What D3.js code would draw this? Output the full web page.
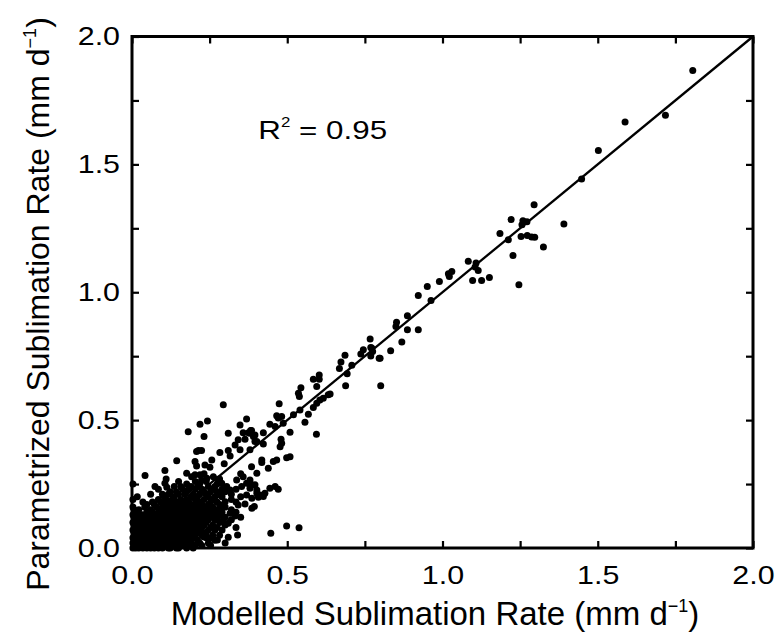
<!DOCTYPE html>
<html><head><meta charset="utf-8">
<script src="https://cdn.jsdelivr.net/npm/d3@7"></script>
<style>
body{margin:0;background:#fff}
text{font-family:"Liberation Sans",Arial,Helvetica,sans-serif;fill:#000}
</style>
</head><body>
<svg id="chart" width="777" height="637"></svg>
<script>
// ---- data ----
const tickValues = [0,0.25,0.5,0.75,1,1.25,1.5,1.75,2];
const tickLabels = {"0":"0.0","0.5":"0.5","1":"1.0","1.5":"1.5","2":"2.0"};
const xTitle = "Modelled Sublimation Rate (mm d";
const yTitle = "Parametrized Sublimation Rate (mm d";
const r2Label = "= 0.95";

const highPts = [[1.806,1.867],[1.718,1.692],[1.588,1.666],[1.502,1.554],[1.448,1.443],[1.391,1.267],[1.325,1.177],[1.295,1.342],[1.221,1.284],[1.259,1.280],[1.272,1.276],[1.256,1.264],[1.185,1.230],[1.212,1.205],[1.253,1.218],[1.273,1.222],[1.287,1.216],[1.297,1.215],[1.227,1.144],[1.246,1.029],
[1.083,1.121],[1.108,1.114],[1.105,1.099],[1.115,1.085],[1.097,1.046],[1.126,1.046],[1.151,1.058],[1.019,1.072],[1.030,1.081],[1.022,1.062],[0.990,1.042],[0.951,1.022],[0.922,0.987],[0.963,0.968],[0.887,0.908],[0.852,0.883],[0.850,0.866],[0.887,0.853],[0.922,0.853],[0.869,0.805],[0.833,0.771],[0.799,0.742],[0.767,0.817],[0.772,0.782],[0.775,0.768]];

const midPts = [[0.745,0.775],[0.737,0.759],[0.769,0.784],[0.769,0.751],[0.796,0.742],[0.686,0.754],[0.673,0.727],[0.668,0.702],[0.708,0.715],[0.693,0.681],[0.603,0.676],[0.603,0.660],[0.584,0.660],[0.595,0.631],[0.544,0.627],[0.688,0.634],[0.801,0.634],[0.638,0.602],
[0.536,0.605],[0.539,0.592],[0.632,0.599],[0.605,0.579],[0.616,0.586],[0.595,0.566],[0.474,0.564],[0.584,0.549],[0.568,0.523],[0.557,0.492],[0.520,0.521],[0.541,0.540],[0.509,0.453],[0.594,0.445],[0.482,0.514],[0.471,0.508],[0.466,0.517],[0.444,0.484],[0.461,0.475],[0.487,0.488],[0.423,0.451],[0.396,0.442],[0.385,0.459],[0.380,0.449],[0.396,0.416],[0.423,0.407],[0.380,0.384],[0.480,0.425],[0.482,0.410],[0.477,0.396],[0.509,0.357],[0.498,0.353],[0.466,0.344],[0.455,0.338],[0.439,0.312],[0.418,0.344],[0.418,0.334],[0.385,0.318],[0.402,0.292],[0.380,0.266],[0.385,0.247],[0.461,0.240],[0.471,0.230],[0.444,0.234],[0.428,0.214],[0.412,0.207],[0.423,0.201],[0.402,0.227],[0.407,0.198],[0.394,0.162],[0.498,0.086],[0.538,0.079],[0.447,0.058],[0.340,0.051],[0.310,0.042],[0.275,0.031]];

const lowPts = [[0.294,0.560],[0.243,0.497],[0.219,0.484],[0.181,0.455],[0.232,0.436],[0.348,0.481],[0.369,0.504],[0.310,0.449],[0.358,0.451],[0.382,0.459],[0.214,0.381],[0.224,0.381],[0.208,0.377],[0.144,0.341],[0.106,0.303],[0.042,0.283],[0.074,0.240],[0.106,0.253],[0.112,0.238],[0.203,0.338],[0.208,0.321],[0.257,0.344],[0.235,0.325],[0.251,0.316],[0.283,0.373],[0.310,0.381],[0.316,0.360],[0.297,0.329],[0.348,0.384],[0.332,0.403],[0.342,0.423],[0.364,0.425],[0.375,0.451],[0.391,0.436],[0.402,0.416],
[0.192,0.279],[0.224,0.266],[0.176,0.292],[0.203,0.286],[0.241,0.273],[0.219,0.286],[0.262,0.279],[0.278,0.269],[0.289,0.253],[0.305,0.240],[0.316,0.227],[0.337,0.266],[0.358,0.279],[0.369,0.253],[0.353,0.240],[0.380,0.234],[0.396,0.247],[0.402,0.214],[0.386,0.195],[0.369,0.207],[0.283,0.207],[0.300,0.181],[0.289,0.162],[0.342,0.168],[0.364,0.172],[0.386,0.155],[0.316,0.136],[0.283,0.136],[0.332,0.125],[0.294,0.110],[0.310,0.097],[0.224,0.064],[0.230,0.044],[0.208,0.058],[0.176,0.025],[0.155,0.044],[0.192,0.018]];

// dense cluster near the origin: modelled value -> parametrized values
const clusterCols = [
 [0.003,[0.00,0.02,0.04,0.07,0.10,0.13,0.16,0.19,0.25]],
 [0.007,[0.01,0.03,0.06,0.09,0.12,0.15]],
 [0.012,[0.00,0.01,0.03,0.05,0.08,0.11]],
 [0.017,[0.01,0.03,0.05,0.07,0.10,0.14,0.20]],
 [0.022,[0.00,0.02,0.04,0.06,0.09,0.12,0.15]],
 [0.029,[0.01,0.02,0.04,0.06,0.08,0.11]],
 [0.035,[0.00,0.01,0.03,0.05,0.07,0.10,0.13,0.18]],
 [0.041,[0.01,0.03,0.05,0.07,0.09,0.12,0.16]],
 [0.048,[0.00,0.02,0.04,0.06,0.08,0.11,0.14,0.17]],
 [0.054,[0.01,0.03,0.05,0.07,0.10,0.13]],
 [0.060,[0.00,0.01,0.03,0.05,0.07,0.09,0.12,0.15,0.21]],
 [0.066,[0.01,0.02,0.04,0.06,0.08,0.10,0.14,0.18]],
 [0.072,[0.00,0.02,0.04,0.06,0.08,0.11,0.13,0.17]],
 [0.079,[0.01,0.03,0.05,0.07,0.10,0.12,0.16]],
 [0.085,[0.00,0.01,0.03,0.05,0.07,0.09,0.12,0.14,0.19,0.23]],
 [0.092,[0.01,0.03,0.05,0.07,0.09,0.11,0.15,0.18]],
 [0.098,[0.00,0.02,0.04,0.06,0.08,0.10,0.13,0.16,0.21]],
 [0.104,[0.01,0.03,0.05,0.07,0.09,0.12,0.15,0.20]],
 [0.110,[0.01,0.03,0.05,0.07,0.09,0.11,0.14,0.17,0.19,0.27]],
 [0.117,[0.00,0.02,0.04,0.06,0.08,0.10,0.13,0.16,0.21]],
 [0.123,[0.00,0.02,0.04,0.06,0.09,0.12,0.15,0.18,0.22]],
 [0.130,[0.01,0.03,0.05,0.07,0.11,0.14,0.17,0.19]],
 [0.136,[0.01,0.03,0.05,0.08,0.10,0.13,0.16,0.20,0.24]],
 [0.143,[0.00,0.04,0.07,0.09,0.11,0.15,0.18,0.22]],
 [0.150,[0.00,0.02,0.06,0.09,0.12,0.14,0.17,0.21,0.26]],
 [0.157,[0.01,0.03,0.05,0.08,0.11,0.16,0.19,0.24]],
 [0.163,[0.01,0.04,0.07,0.10,0.13,0.15,0.18,0.23]],
 [0.170,[0.02,0.06,0.09,0.12,0.17,0.21]],
 [0.176,[0.00,0.05,0.08,0.11,0.14,0.16,0.19,0.22,0.25]],
 [0.183,[0.01,0.04,0.07,0.10,0.13,0.18,0.23]],
 [0.190,[0.03,0.06,0.09,0.12,0.15,0.17,0.20,0.24]],
 [0.197,[0.00,0.04,0.07,0.10,0.13,0.16,0.21]],
 [0.204,[0.01,0.05,0.08,0.11,0.14,0.17,0.19,0.23,0.26]],
 [0.211,[0.03,0.06,0.09,0.12,0.15,0.20,0.24]],
 [0.218,[0.02,0.07,0.10,0.13,0.16,0.18,0.21,0.25]],
 [0.225,[0.01,0.05,0.08,0.11,0.14,0.17,0.23]],
 [0.232,[0.09,0.12,0.15,0.19,0.22,0.29]],
 [0.239,[0.04,0.06,0.10,0.13,0.16,0.21,0.26]],
 [0.246,[0.02,0.07,0.11,0.14,0.17,0.20,0.24]],
 [0.253,[0.01,0.04,0.08,0.12,0.15,0.18,0.22]],
 [0.260,[0.05,0.09,0.13,0.16,0.19,0.23]],
 [0.267,[0.03,0.07,0.11,0.14,0.20,0.24]],
 [0.274,[0.08,0.12,0.15,0.18,0.22,0.25]],
 [0.282,[0.05,0.10,0.13,0.17,0.21,0.27]],
 [0.290,[0.07,0.14,0.20,0.23]],
 [0.300,[0.02,0.09,0.12,0.16,0.22]],
 [0.320,[0.11,0.15,0.19,0.21]],
 [0.335,[0.08,0.14,0.18,0.23]],
 [0.350,[0.12,0.20,0.29]]
];

// ---- layout ----
const W = 777, H = 637;
const m = {left:132, top:36.5, right:24, bottom:89};
const iw = W - m.left - m.right, ih = H - m.top - m.bottom;

const svg = d3.select("#chart");
const g = svg.append("g").attr("transform",`translate(${m.left},${m.top})`);

const x = d3.scaleLinear().domain([0,2]).range([0,iw]);
const y = d3.scaleLinear().domain([0,2]).range([ih,0]);

const fmt = v => tickLabels[String(+v.toFixed(2))] || "";
const sx = 1.17;

// axes (ticks inside)
const axB = d3.axisBottom(x).tickValues(tickValues).tickSizeInner(-7).tickSizeOuter(0).tickPadding(18).tickFormat(fmt);
const axT = d3.axisTop(x).tickValues(tickValues).tickSizeInner(-7).tickSizeOuter(0).tickFormat("");
const axL = d3.axisLeft(y).tickValues(tickValues).tickSizeInner(-7).tickSizeOuter(0).tickPadding(12).tickFormat(fmt);
const axR = d3.axisRight(y).tickValues(tickValues).tickSizeInner(-7).tickSizeOuter(0).tickFormat("");

function style(sel){
  sel.select(".domain").remove();
  sel.selectAll(".tick line").attr("stroke","#000").attr("stroke-width",2.2);
  sel.selectAll(".tick text").attr("font-size",26).attr("fill","#000")
     .attr("font-family",'"Liberation Sans",Arial,Helvetica,sans-serif');
}
const gB = g.append("g").attr("transform",`translate(0,${ih})`).call(axB).call(style);
gB.selectAll(".tick text").attr("transform",`scale(${sx},1)`);
g.append("g").call(axT).call(style);
const gL = g.append("g").call(axL).call(style);
gL.selectAll(".tick text").attr("transform",function(){const t=d3.select(this);return `translate(${+t.attr("x")*(1-sx)},0) scale(${sx},1)`;});
g.append("g").attr("transform",`translate(${iw},0)`).call(axR).call(style);

// frame
g.append("rect").attr("width",iw).attr("height",ih).attr("fill","none").attr("stroke","#000").attr("stroke-width",3);

// 1:1 line
g.append("line").attr("x1",x(0)).attr("y1",y(0)).attr("x2",x(2)).attr("y2",y(2))
 .attr("stroke","#000").attr("stroke-width",2.3);

// points
const pts = [];
clusterCols.forEach(([xv,ys]) => ys.forEach(yv => pts.push([xv,yv])));
lowPts.concat(midPts, highPts).forEach(p => pts.push(p));
g.append("g").selectAll("circle").data(pts).join("circle")
 .attr("cx",d=>x(d[0])).attr("cy",d=>y(d[1])).attr("r",3.5).attr("fill","#000");

// R^2 label
const rt = g.append("text").attr("transform",`translate(${x(0.407)},${y(1.6)}) scale(${sx*1.03},1)`).attr("font-size",26);
rt.append("tspan").text("R");
rt.append("tspan").attr("dy",-12).attr("font-size",14).text("2");
rt.append("tspan").attr("dy",12).text(" " + r2Label);

// axis titles
const xt = svg.append("text").attr("x", 435).attr("y", 625).attr("text-anchor","middle").attr("font-size",33);
xt.append("tspan").text(xTitle);
xt.append("tspan").attr("dy",-13).attr("font-size",18).text("\u22121");
xt.append("tspan").attr("dy",13).text(")");

const yt = svg.append("text").attr("transform",`translate(49,${304}) rotate(-90)`).attr("text-anchor","middle").attr("font-size",32);
yt.append("tspan").text(yTitle);
yt.append("tspan").attr("dy",-13).attr("font-size",18).text("\u22121");
yt.append("tspan").attr("dy",13).text(")");
</script>
</body></html>
